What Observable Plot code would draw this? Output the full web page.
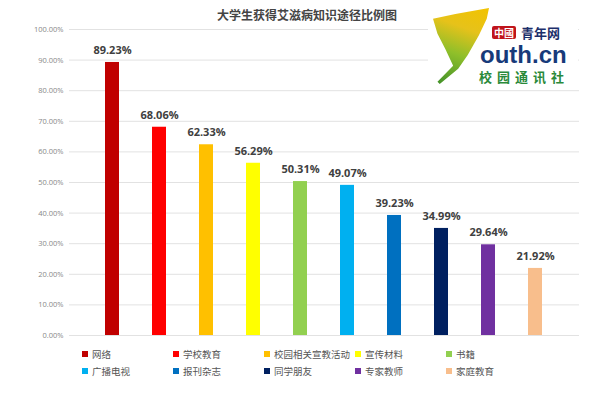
<!DOCTYPE html>
<html>
<head>
<meta charset="utf-8">
<script src="https://cdn.jsdelivr.net/npm/d3@7"></script>
<script src="https://cdn.jsdelivr.net/npm/@observablehq/plot@0.6"></script>
<style>
  html, body { margin: 0; padding: 0; background: #fff; }
  body { width: 599px; height: 394px; overflow: hidden; position: relative;
         font-family: "Open Sans", "Noto Sans CJK SC", sans-serif; }
  #chart { position: absolute; left: 0; top: 0; }
  #title { position: absolute; left: 0; width: 614px; top: 6px; text-align: center;
           font-size: 12px; font-weight: bold; color: #444;
           font-family: "Noto Sans CJK SC", sans-serif; }
  #legend { position: absolute; left: 82px; top: 346px; display: grid;
            grid-template-columns: repeat(5, 91px); row-gap: 1px;
            font-family: "Noto Sans CJK SC", sans-serif; font-size: 9.5px; color: #555; }
  .item { display: flex; align-items: center; height: 16px; white-space: nowrap; }
  .sw { width: 6px; height: 6px; margin-right: 4px; flex: none; }
  #logo { position: absolute; left: 428px; top: 4px; width: 150px; height: 82px; background: #fff; }
  #leaf { position: absolute; left: 5px; top: 4px; width: 56px; height: 76px;
          background: linear-gradient(200deg, #f2c300 0%, #e6c21a 30%, #8fbf2a 60%, #3f8f2a 100%);
          clip-path: polygon(0% 14%, 40% 8%, 100% 0%, 96% 14%, 82% 36%, 62% 62%, 45% 80%, 12% 100%, 8% 97%, 36% 76%, 22% 54%, 8% 34%); }
  #zg { position: absolute; left: 64px; top: 22px; background: #c0141b; color: #fff; font-size: 10px;
        padding: 0 2px; line-height: 13px; border-radius: 2px; font-family: "Noto Sans CJK TC", sans-serif; font-weight: bold;}
  #qnw { position: absolute; left: 93px; top: 21px; color: #1d2f6b; font-size: 13px; font-weight: bold;
         font-family: "Noto Sans CJK SC", serif; line-height: 15px; }
  #outh { position: absolute; left: 52px; top: 41px; color: #173a7a; font-size: 24px; font-weight: bold;
          font-family: "Liberation Sans", Arial, sans-serif; line-height: 20px; }
  #xy { position: absolute; left: 51px; top: 66px; color: #2a8a3a; font-size: 13px; font-weight: bold;
        letter-spacing: 5px; font-family: "Noto Sans CJK SC", serif; line-height: 14px; }
</style>
</head>
<body>
<div id="chart"></div>
<div id="title">大学生获得艾滋病知识途径比例图</div>
<div id="logo">
  <div id="leaf"></div>
  <div id="zg">中國</div>
  <div id="qnw">青年网</div>
  <div id="outh">outh.cn</div>
  <div id="xy">校园通讯社</div>
</div>
<div id="legend"></div>
<script>
const categories = ["网络", "学校教育", "校园相关宣教活动", "宣传材料", "书籍", "广播电视", "报刊杂志", "同学朋友", "专家教师", "家庭教育"];
const values = [0.8923, 0.6806, 0.6233, 0.5629, 0.5031, 0.4907, 0.3923, 0.3499, 0.2964, 0.2192];
const colors = ["#C00000", "#FF0000", "#FFC000", "#FFFF00", "#92D050", "#00B0F0", "#0070C0", "#002060", "#7030A0", "#F8BE8C"];
const yTicks = [0, 0.1, 0.2, 0.3, 0.4, 0.5, 0.6, 0.7, 0.8, 0.9, 1.0];

const data = categories.map((c, i) => ({category: c, value: values[i], color: colors[i]}));

const chart = Plot.plot({
  width: 599,
  height: 345,
  marginTop: 29,
  marginBottom: 10,
  marginLeft: 69,
  marginRight: 20,
  style: {fontFamily: "'Open Sans', 'Noto Sans CJK SC', sans-serif", background: "transparent"},
  x: {domain: categories, padding: 0.7, axis: null},
  y: {domain: [0, 1], ticks: yTicks, tickFormat: d3.format(".2%"), label: null},
  marks: [
    Plot.ruleY(yTicks, {stroke: "#e2e2e2", strokeWidth: 1}),
    Plot.axisY({ticks: yTicks, tickFormat: d3.format(".2%"), tickSize: 0, tickPadding: 6,
                fontSize: 7.5, fill: "#888", label: null}),
    Plot.barY(data, {x: "category", y: "value", fill: d => d.color}),
    Plot.text(data, {x: "category", y: "value", text: d => d3.format(".2%")(d.value),
                     dy: -12, fontSize: 11, fontWeight: "bold", fill: "#404040"})
  ],
  color: {type: "identity"}
});
document.getElementById("chart").appendChild(chart);

const legend = document.getElementById("legend");
categories.forEach((c, i) => {
  const item = document.createElement("div");
  item.className = "item";
  const sw = document.createElement("span");
  sw.className = "sw";
  sw.style.background = colors[i];
  item.appendChild(sw);
  item.appendChild(document.createTextNode(c));
  legend.appendChild(item);
});
</script>
</body>
</html>
